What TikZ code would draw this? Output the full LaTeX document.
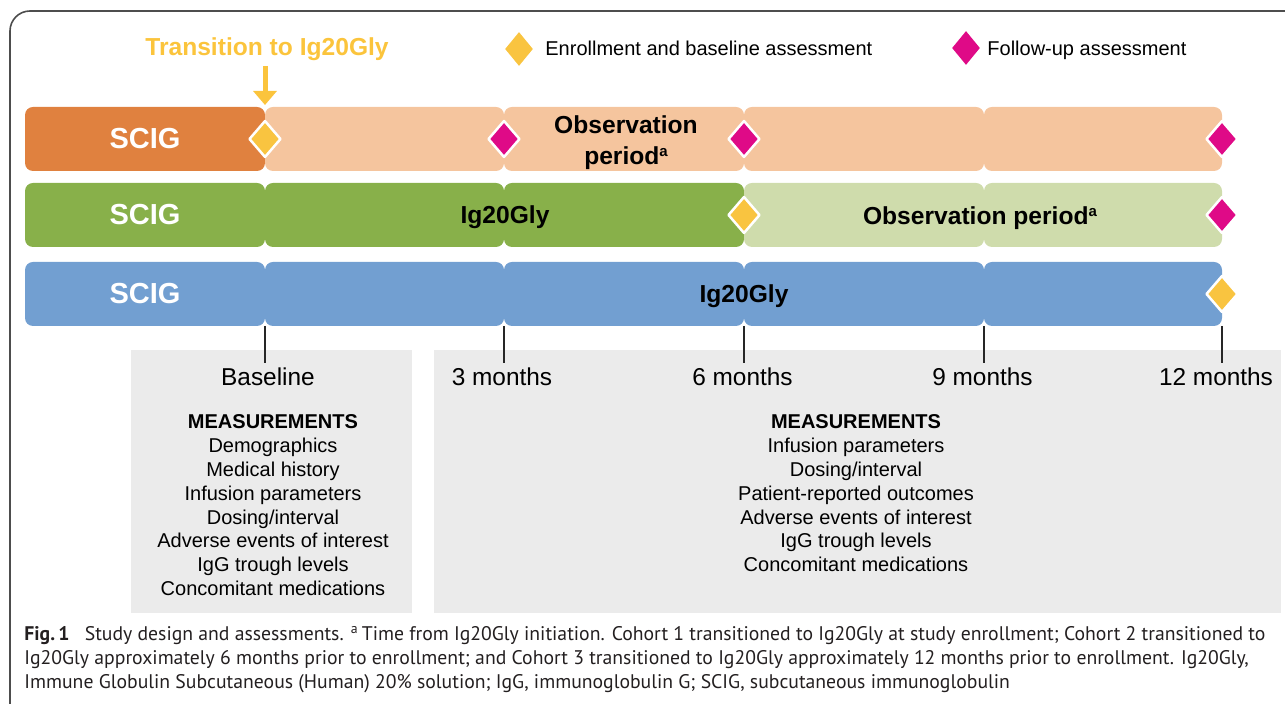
\documentclass[tikz,border=0pt]{standalone}
\usepackage{fontspec}
\setmainfont{Liberation Sans}
\newfontfamily\capfont{PT Sans}
\usetikzlibrary{shapes.geometric,arrows.meta}
\definecolor{orD}{HTML}{E0813F}
\definecolor{orL}{HTML}{F5C59E}
\definecolor{grD}{HTML}{88B04A}
\definecolor{grL}{HTML}{CFDCAC}
\definecolor{blu}{HTML}{729FD1}
\definecolor{yel}{HTML}{F9C440}
\definecolor{mag}{HTML}{DF0A87}
\definecolor{pan}{HTML}{EBEBEB}
\definecolor{trn}{HTML}{FBC43C}
\definecolor{capc}{HTML}{231F20}
\definecolor{frm}{HTML}{4D4D4D}
\newcommand{\supa}{\raisebox{4.2pt}{\fontsize{7.5}{8}\selectfont a}}
\tikzset{
  seg/.style={rectangle, rounded corners=4pt, inner sep=0pt, minimum height=32pt, draw=none},
  scig/.style={text=white, font=\fontsize{14.5}{16}\selectfont\bfseries},
  bartxt/.style={inner sep=0pt, anchor=base, text=black, font=\fontsize{12.3}{14}\selectfont\bfseries},
  dmd/.style={diamond, inner sep=0pt, minimum width=16pt, minimum height=18.5pt, draw=white, line width=1.25pt, line join=round},
  lgdmd/.style={diamond, inner sep=0pt, minimum width=14pt, minimum height=17pt, draw=none},
  lgtxt/.style={inner sep=0pt, anchor=base west, font=\fontsize{10}{12}\selectfont},
  tick/.style={line width=1pt, draw=black!85},
  mlabel/.style={inner sep=0pt, anchor=base, font=\fontsize{12.2}{14}\selectfont},
  meas/.style={inner sep=0pt, anchor=base, font=\fontsize{10}{12}\selectfont},
  capline/.style={inner sep=0pt, anchor=base west, text=capc, font=\capfont\fontsize{9.85}{12}\selectfont},
}
\begin{document}
\begin{tikzpicture}[x=0.5pt,y=-0.5pt]
\useasboundingbox (0,0) rectangle (1285,704);
% frame
\draw[frm, line width=0.8pt, rounded corners=10pt] (10,760) -- (10,11) -- (1340,11);

% legend & transition
\node[inner sep=0pt, anchor=base, text=trn, font=\fontsize{12.3}{14}\selectfont\bfseries] (trans) at (267,56) {Transition to Ig20Gly};
\coordinate (arrtip) at (265,105);
\coordinate (arrtail) at (265,66);
\draw[trn, line width=2.5pt, -{Triangle[width=11.5pt,length=7pt]}] (arrtail) -- (arrtip);
\node[lgdmd, fill=yel] (lg1) at (519,49) {};
\node[lgtxt] (lg1t) at (545,56) {Enrollment and baseline assessment};
\node[lgdmd, fill=mag] (lg2) at (966,48) {};
\node[lgtxt] (lg2t) at (987,56) {Follow-up assessment};

% panels
\fill[pan] (131,350) rectangle (412,613);
\fill[pan] (434,350) rectangle (1281,613);

% row 1
\node[seg, fill=orD, minimum width=120pt, scig] (r1a) at (145,139) {SCIG};
\node[seg, fill=orL, minimum width=119.5pt] (r1b) at (384.5,139) {};
\node[seg, fill=orL, minimum width=120pt] (r1c) at (624,139) {};
\node[seg, fill=orL, minimum width=120pt] (r1d) at (864,139) {};
\node[seg, fill=orL, minimum width=119pt] (r1e) at (1103,139) {};
\node[bartxt] (obsA1) at (626,134) {Observation};
\node[bartxt] (obsA2) at (626,165) {period\supa};
% row 2
\node[seg, fill=grD, minimum width=120pt, scig] (r2a) at (145,215) {SCIG};
\node[seg, fill=grD, minimum width=119.5pt] (r2b) at (384.5,215) {};
\node[seg, fill=grD, minimum width=120pt] (r2c) at (624,215) {};
\node[seg, fill=grL, minimum width=120pt] (r2d) at (864,215) {};
\node[seg, fill=grL, minimum width=119pt] (r2e) at (1103,215) {};
\node[bartxt] (ig2) at (505,224) {Ig20Gly};
\node[bartxt] (obsB) at (980,225) {Observation period\supa};
% row 3
\node[seg, fill=blu, minimum width=120pt, scig] (r3a) at (145,294) {SCIG};
\node[seg, fill=blu, minimum width=119.5pt] (r3b) at (384.5,294) {};
\node[seg, fill=blu, minimum width=120pt] (r3c) at (624,294) {};
\node[seg, fill=blu, minimum width=120pt] (r3d) at (864,294) {};
\node[seg, fill=blu, minimum width=119pt] (r3e) at (1103,294) {};
\node[bartxt] (ig3) at (744,303) {Ig20Gly};

% diamonds
\node[dmd, fill=yel] (d1) at (265,139) {};
\node[dmd, fill=mag] (d2) at (504,139) {};
\node[dmd, fill=mag] (d3) at (744,139) {};
\node[dmd, fill=mag] (d4) at (1222,139) {};
\node[dmd, fill=yel] (d5) at (744,215) {};
\node[dmd, fill=mag] (d6) at (1222,215) {};
\node[dmd, fill=yel] (d7) at (1222,294) {};

% ticks
\foreach \x [count=\i] in {265,504,744,984,1222} {
  \coordinate (ta\i) at (\x,326);
  \coordinate (tb\i) at (\x,363);
  \draw[tick] (ta\i) -- (tb\i);
}

% time labels
\node[mlabel] (lb0) at (268,386) {Baseline};
\node[mlabel] (lb3) at (502,386) {3 months};
\node[mlabel] (lb6) at (742.5,386) {6 months};
\node[mlabel] (lb9) at (982.5,386) {9 months};
\node[mlabel] (lb12) at (1216,386) {12 months};

% measurements
\node[meas, font=\fontsize{10}{12}\selectfont\bfseries] (mL) at (273,429) {MEASUREMENTS};
\foreach \t [count=\i] in {Demographics, Medical history, Infusion parameters, Dosing/interval, Adverse events of interest, IgG trough levels, Concomitant medications} {
  \node[meas] (mL\i) at (273,{429+23.8*\i}) {\t};
}
\node[meas, font=\fontsize{10}{12}\selectfont\bfseries] (mR) at (856,429) {MEASUREMENTS};
\foreach \t [count=\i] in {Infusion parameters, Dosing/interval, Patient-reported outcomes, Adverse events of interest, IgG trough levels, Concomitant medications} {
  \node[meas] (mR\i) at (856,{429+23.8*\i}) {\t};
}

% caption
\node[capline] (cap1) at (24,641) {\textbf{Fig.\,1}\hspace{5pt} Study design and assessments. \textsuperscript{a}\,Time from Ig20Gly initiation. Cohort 1 transitioned to Ig20Gly at study enrollment; Cohort 2 transitioned to};
\node[capline] (cap2) at (24,665) {Ig20Gly approximately 6 months prior to enrollment; and Cohort 3 transitioned to Ig20Gly approximately 12 months prior to enrollment. Ig20Gly,};
\node[capline] (cap3) at (24,689) {Immune Globulin Subcutaneous (Human) 20\% solution; IgG, immunoglobulin G; SCIG, subcutaneous immunoglobulin};
\end{tikzpicture}
\end{document}
